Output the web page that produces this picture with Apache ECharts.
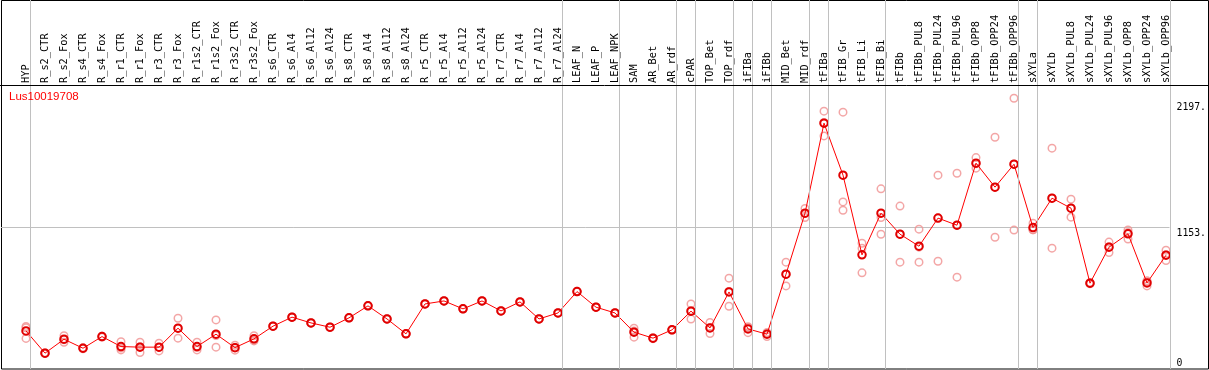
<!DOCTYPE html>
<html>
<head>
<meta charset="utf-8">
<script src="https://cdn.jsdelivr.net/npm/echarts@6/dist/echarts.min.js"></script>
<style>
html,body{margin:0;padding:0;background:#fff;}
#chart{width:1209px;height:370px;}
</style>
</head>
<body>
<div id="chart"></div>
<script>
// ---- data ----
const categories = ["HYP","R_s2_CTR","R_s2_Fox","R_s4_CTR","R_s4_Fox","R_r1_CTR","R_r1_Fox","R_r3_CTR","R_r3_Fox","R_r1s2_CTR","R_r1s2_Fox","R_r3s2_CTR","R_r3s2_Fox","R_s6_CTR","R_s6_Al4","R_s6_Al12","R_s6_Al24","R_s8_CTR","R_s8_Al4","R_s8_Al12","R_s8_Al24","R_r5_CTR","R_r5_Al4","R_r5_Al12","R_r5_Al24","R_r7_CTR","R_r7_Al4","R_r7_Al12","R_r7_Al24","LEAF_N","LEAF_P","LEAF_NPK","SAM","AR_Bet","AR_rdf","cPAR","TOP_Bet","TOP_rdf","iFIBa","iFIBb","MID_Bet","MID_rdf","tFIBa","tFIB_Gr","tFIB_Li","tFIB_Bi","tFIBb","tFIBb_PUL8","tFIBb_PUL24","tFIBb_PUL96","tFIBb_OPP8","tFIBb_OPP24","tFIBb_OPP96","sXYLa","sXYLb","sXYLb_PUL8","sXYLb_PUL24","sXYLb_PUL96","sXYLb_OPP8","sXYLb_OPP24","sXYLb_OPP96"];
const meanValues = [292,107,223,148,245,162,157,157,315,162,265,153,226,332,407,359,323,401,501,392,268,517,542,476,542,459,534,392,442,620,490,442,282,232,301,457,317,617,309,265,765,1273,2023,1590,926,1273,1098,998,1232,1173,1690,1490,1681,1153,1398,1315,690,990,1101,692,923];
const rep1 = [330,104,253,143,240,203,198,190,398,198,384,173,253,330,405,357,321,399,499,390,266,515,540,474,540,457,532,390,440,618,488,440,315,228,298,517,362,732,328,245,865,1312,2123,2115,1023,1476,1332,1140,1590,1606,1736,1906,2231,1190,1815,1390,685,1032,1134,667,965];
const rep2 = [318,108,198,150,247,134,112,126,232,134,157,132,209,332,407,359,323,401,501,392,268,517,542,476,542,459,534,392,442,620,490,442,240,232,301,392,270,498,278,270,667,1237,1917,1367,776,1237,865,865,873,740,1648,1073,1132,1135,982,1240,690,945,1057,700,878];
const rep3 = [230,109,218,151,248,149,161,155,315,154,254,154,216,334,409,361,325,403,503,394,270,519,544,478,544,461,536,394,444,622,492,444,291,236,304,462,319,621,321,280,763,1270,2029,1298,980,1098,1098,990,1232,1173,1685,1490,1681,1135,1398,1315,695,993,1112,710,927];
const groupEnds = [-1,0,28,31,34,35,37,38,39,41,42,45,52,53,60]; // separator after these category indices
const yTickLabels = [0,1153,2197];
const yGridValues = [1153];
const titleText = "Lus10019708";

// ---- layout ----
const BAND = 19;
const PLOT_LEFT = 16.5;
const PLOT_TOP = 85;
const PLOT_BOTTOM = 4;
const Y_MAX = 2341;
const SEP_OFFSET = 4 / BAND;
const N = categories.length;

const repData = [];
[rep1, rep2, rep3].forEach(r => r.forEach((v, i) => repData.push([i, v])));

const chart = echarts.init(document.getElementById('chart'), null, {renderer: 'canvas'});
const monoFont = 'DejaVu Sans Mono';

chart.setOption({
  animation: false,
  backgroundColor: '#fff',
  title: {
    text: titleText, left: 9, top: 91, padding: 0,
    textStyle: {color: '#ff0000', fontSize: 11.5, fontWeight: 'normal', fontFamily: 'Liberation Sans'}
  },
  grid: [
    {left: PLOT_LEFT, width: N * BAND, top: PLOT_TOP, bottom: PLOT_BOTTOM, containLabel: false},
    {left: 1, width: 1170, top: PLOT_TOP, bottom: PLOT_BOTTOM, containLabel: false},
    {left: PLOT_LEFT, width: N * BAND, top: 0, bottom: 1, containLabel: false},
    {left: 1.5, top: 0.5, width: 1207, height: 368.5, show: true, borderColor: '#000', borderWidth: 1, backgroundColor: 'transparent', containLabel: false}
  ],
  xAxis: [
    {gridIndex: 0, type: 'category', position: 'top', data: categories, boundaryGap: true,
     axisLine: {show: false}, axisTick: {show: false}, splitLine: {show: false},
     axisLabel: {interval: 0, rotate: 90, margin: 2, fontFamily: monoFont, fontSize: 10.3, color: '#000'}},
    {gridIndex: 1, type: 'value', min: 0, max: 1, show: false},
    {gridIndex: 2, type: 'value', min: -0.5, max: N - 0.5, show: false},
    {gridIndex: 3, type: 'value', min: 0, max: 1, show: false}
  ],
  yAxis: [
    {gridIndex: 0, type: 'value', min: 0, max: Y_MAX, show: false},
    {gridIndex: 1, type: 'value', min: 0, max: Y_MAX, position: 'right',
     axisLine: {show: false},
     axisTick: {show: false, customValues: yGridValues},
     splitLine: {show: true, lineStyle: {color: '#c0c0c0', width: 1}},
     axisLabel: {
       customValues: yTickLabels, margin: 7, align: 'left', verticalAlign: 'middle',
       formatter: v => v === 0 ? '{b|0}' : '{a|' + v + '.}',
       rich: {
         a: {fontFamily: monoFont, fontSize: 9.8, color: '#000', padding: [11, 0, 0, 0]},
         b: {fontFamily: monoFont, fontSize: 9.8, color: '#000', padding: [0, 0, 6, 0]}
       }
     }},
    {gridIndex: 2, type: 'value', min: 0, max: 1, show: false},
    {gridIndex: 3, type: 'value', min: 0, max: 1, show: false}
  ],
  graphic: [
    {type: 'line', shape: {x1: 0, y1: 85.5, x2: 1209, y2: 85.5}, style: {stroke: '#000', lineWidth: 1}, z: 100, silent: true}
  ],
  series: [
    {
      type: 'scatter', xAxisIndex: 2, yAxisIndex: 2, data: [], silent: true,
      markLine: {
        silent: true, symbol: 'none', animation: false,
        label: {show: false},
        lineStyle: {color: '#c0c0c0', width: 1, type: 'solid'},
        data: groupEnds.map(i => ({xAxis: i + SEP_OFFSET}))
      },
      z: 1
    },
    {
      type: 'scatter', xAxisIndex: 0, yAxisIndex: 0, data: repData,
      symbol: 'circle', symbolSize: 7.5,
      itemStyle: {color: 'rgba(0,0,0,0)', borderColor: '#f09090', borderWidth: 1.5},
      z: 3
    },
    {
      type: 'line', xAxisIndex: 0, yAxisIndex: 0, data: meanValues,
      symbol: 'circle', symbolSize: 7.5, showAllSymbol: true,
      lineStyle: {color: '#ff0000', width: 1},
      itemStyle: {color: 'rgba(0,0,0,0)', borderColor: '#e00000', borderWidth: 2},
      z: 4
    }
  ]
});
</script>
</body>
</html>
